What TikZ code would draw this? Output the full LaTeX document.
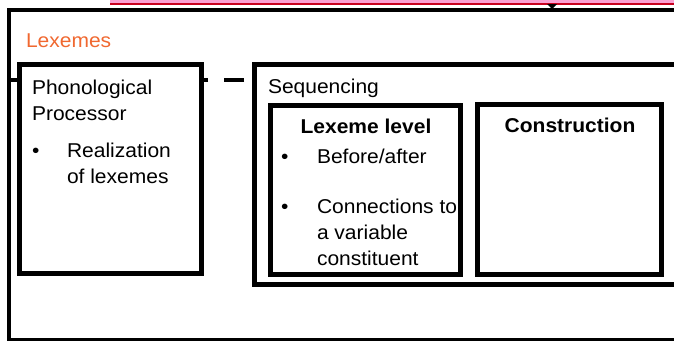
\documentclass[tikz,border=0pt]{standalone}
\usepackage{fontspec}
\setmainfont{Liberation Sans}[FakeStretch=1.05]
\definecolor{lexorange}{RGB}{240,104,48}
\definecolor{stripink}{RGB}{250,160,210}
\definecolor{stripred}{RGB}{200,0,30}
\begin{document}
\begin{tikzpicture}[x=1pt,y=-1pt,
  every node/.style={inner sep=0pt,outer sep=0pt,font=\fontsize{20}{24}\selectfont},
  boxframe/.style={draw=black,line width=5pt,rectangle,anchor=north west},
  outerframe/.style={draw=black,line width=4pt},
  txt/.style={anchor=base west},
  boldtxt/.style={anchor=base,font=\fontsize{20}{24}\selectfont\bfseries},
  dashline/.style={draw=black,line width=4pt,dash pattern=on 20pt off 16pt,dash phase=26pt}]
\useasboundingbox (0,0) rectangle (674,340);
% strip at top
\fill[stripink] (110,0) rectangle (674,4);
\draw[stripred,line width=1.5pt] (110,4) -- (674,4);
\fill[black] (547,4) -- (557,4) -- (552,9) -- cycle;
% outer box
\draw[outerframe] (9,10) rectangle (700,339.5);
\node[txt,text=lexorange] (lex) at (26,47) {Lexemes};
% dashed connector
\coordinate (dl) at (0,80);
\coordinate (dr) at (254,80);
\draw[dashline] (dr) -- (dl);
% phonological processor box
\node[boxframe,fill=white,minimum width=182pt,minimum height=209pt] (phon) at (19.5,64.5) {};
\node[txt] (phon1) at (32,94) {Phonological};
\node[txt] (phon2) at (32,120) {Processor};
\node[txt] (b1) at (32,157) {•};
\node[txt] (phon3) at (67,157) {Realization};
\node[txt] (phon4) at (67,183) {of lexemes};
% sequencing
\node[txt] (seqt) at (268,93) {Sequencing};
\node[txt] (b2) at (281,163) {•};
\node[txt] (l1) at (317,163) {Before/after};
\node[txt] (b3) at (281,213) {•};
\node[txt] (l2) at (317,213) {Connections to};
\node[txt] (l3) at (317,239) {a variable};
\node[txt] (l4) at (317,265) {constituent};
\node[boxframe,minimum width=460pt,minimum height=220pt] (seq) at (254,64.5) {};
\node[boxframe,minimum width=189.5pt,minimum height=169pt] (lexlev) at (270.5,105) {};
\node[boxframe,minimum width=184pt,minimum height=170pt] (cons) at (477,104.5) {};
\node[boldtxt] (lexlevt) at (366,133) {Lexeme level};
\node[boldtxt] (const) at (570,132) {Construction};
\end{tikzpicture}
\end{document}
